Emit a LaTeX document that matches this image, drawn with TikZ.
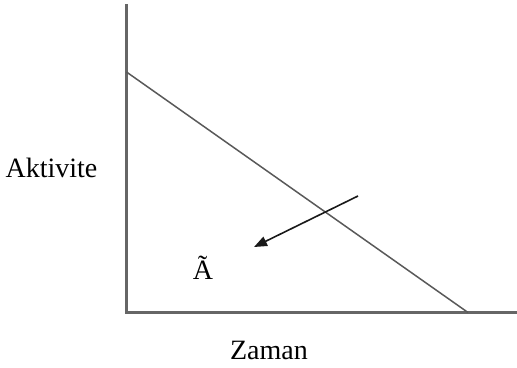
\documentclass[tikz,border=0pt]{standalone}
\usepackage{fontspec}
\setmainfont{Liberation Serif}
\usetikzlibrary{arrows.meta}
\begin{document}
\begin{tikzpicture}[x=1pt,y=-1pt,
  axis/.style={draw=black!60,line width=2.2pt},
  diag/.style={draw=black!65,line width=1.5pt},
  arr/.style={draw=black!90,line width=1.6pt,-{Triangle[length=13pt,width=10pt]}},
  lbl/.style={font=\fontsize{28}{32}\selectfont,inner sep=0pt,text=black}]
\useasboundingbox (0,0) rectangle (517,367);
\coordinate (top) at (126.5,4);
\coordinate (origin) at (126.5,312.5);
\coordinate (xend) at (517,312.5);
\coordinate (d1) at (126.5,72);
\coordinate (d2) at (468,312.5);
\coordinate (a1) at (358,196);
\coordinate (a2) at (254,247);
\draw[axis] (top) -- (origin) -- (xend);
\draw[diag] (d1) -- (d2);
\draw[arr] (a1) -- (a2);
\node[lbl] (akt) at (51.5,168) {Aktivite};
\node[lbl] (zam) at (269,350) {Zaman};
\node[lbl] (atil) at (203,268) {Ã};
\end{tikzpicture}
\end{document}
